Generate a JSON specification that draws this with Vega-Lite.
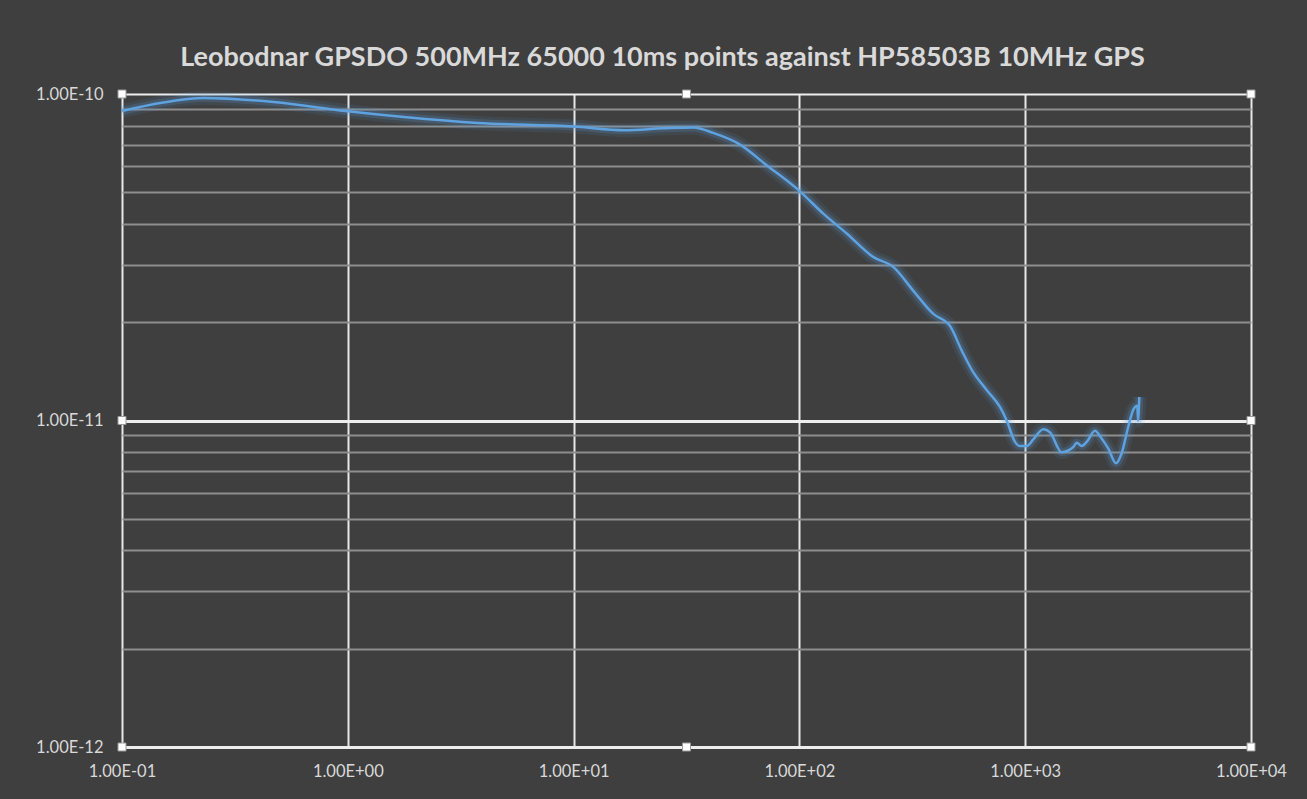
{
  "$schema": "https://vega.github.io/schema/vega-lite/v6.json",
  "autosize": {"type": "none"},
  "width": 1129,
  "height": 653,
  "padding": {"left": 122, "top": 94, "right": 56, "bottom": 52},
  "background": "#3f3f3f",
  "config": {"view": {"stroke": null}},
  "title": {
    "text": "Leobodnar GPSDO 500MHz 65000 10ms points against HP58503B 10MHz GPS",
    "font": "Lato",
    "fontSize": 27,
    "fontWeight": "bold",
    "color": "#d9d9d9",
    "anchor": "middle",
    "baseline": "alphabetic",
    "offset": 27,
    "dx": -24,
    "dy": 50
  },
  "datasets": {
    "adev": [
      {"tau": 0.1, "adev": 8.87e-11},
      {"tau": 0.15, "adev": 9.4e-11},
      {"tau": 0.23, "adev": 9.72e-11},
      {"tau": 0.47, "adev": 9.45e-11},
      {"tau": 1.0, "adev": 8.85e-11},
      {"tau": 1.77, "adev": 8.5e-11},
      {"tau": 3.75, "adev": 8.15e-11},
      {"tau": 10, "adev": 7.95e-11},
      {"tau": 16.8, "adev": 7.75e-11},
      {"tau": 25, "adev": 7.85e-11},
      {"tau": 34, "adev": 7.9e-11},
      {"tau": 41.5, "adev": 7.6e-11},
      {"tau": 54.6, "adev": 7.0e-11},
      {"tau": 71.6, "adev": 6.05e-11},
      {"tau": 100, "adev": 5.05e-11},
      {"tau": 127.6, "adev": 4.3e-11},
      {"tau": 162, "adev": 3.74e-11},
      {"tau": 212, "adev": 3.17e-11},
      {"tau": 261, "adev": 2.95e-11},
      {"tau": 319, "adev": 2.5e-11},
      {"tau": 392, "adev": 2.12e-11},
      {"tau": 464, "adev": 1.95e-11},
      {"tau": 523, "adev": 1.64e-11},
      {"tau": 580, "adev": 1.43e-11},
      {"tau": 675, "adev": 1.24e-11},
      {"tau": 773, "adev": 1.1e-11},
      {"tau": 828, "adev": 1.0e-11},
      {"tau": 901, "adev": 8.6e-12},
      {"tau": 948, "adev": 8.35e-12},
      {"tau": 1015, "adev": 8.35e-12},
      {"tau": 1086, "adev": 8.75e-12},
      {"tau": 1203, "adev": 9.4e-12},
      {"tau": 1288, "adev": 9.2e-12},
      {"tau": 1451, "adev": 8.0e-12},
      {"tau": 1553, "adev": 8.1e-12},
      {"tau": 1634, "adev": 8.3e-12},
      {"tau": 1692, "adev": 8.55e-12},
      {"tau": 1780, "adev": 8.35e-12},
      {"tau": 1873, "adev": 8.6e-12},
      {"tau": 2037, "adev": 9.3e-12},
      {"tau": 2182, "adev": 8.8e-12},
      {"tau": 2334, "adev": 8.2e-12},
      {"tau": 2524, "adev": 7.4e-12},
      {"tau": 2675, "adev": 7.94e-12},
      {"tau": 2864, "adev": 9.6e-12},
      {"tau": 3013, "adev": 1.08e-11},
      {"tau": 3136, "adev": 1.11e-11},
      {"tau": 3160, "adev": 1.0e-11},
      {"tau": 3201, "adev": 1.18e-11}
    ],
    "handles": [
      {"tau": 0.1, "adev": 1e-10},
      {"tau": 31.62, "adev": 1e-10},
      {"tau": 10000, "adev": 1e-10},
      {"tau": 0.1, "adev": 1e-11},
      {"tau": 10000, "adev": 1e-11},
      {"tau": 0.1, "adev": 1e-12},
      {"tau": 31.62, "adev": 1e-12},
      {"tau": 10000, "adev": 1e-12}
    ]
  },
  "encoding": {
    "x": {
      "field": "tau",
      "type": "quantitative",
      "scale": {"type": "log", "domain": [0.1, 10000], "nice": false},
      "axis": {
        "title": null,
        "values": [0.1, 1, 10, 100, 1000, 10000],
        "labelExpr": "datum.value < 0.5 ? '1.00E-01' : datum.value < 5 ? '1.00E+00' : datum.value < 50 ? '1.00E+01' : datum.value < 500 ? '1.00E+02' : datum.value < 5000 ? '1.00E+03' : '1.00E+04'",
        "grid": true,
        "gridColor": "#e8e8e8",
        "gridWidth": 2,
        "gridOpacity": 1,
        "domain": false,
        "ticks": false,
        "labelColor": "#d9d9d9",
        "labelFont": "Lato",
        "labelFontSize": 16.5,
        "labelPadding": 16,
        "labelFlush": false
      }
    },
    "y": {
      "field": "adev",
      "type": "quantitative",
      "scale": {"type": "log", "domain": [1e-12, 1e-10], "nice": false},
      "axis": {
        "title": null,
        "values": [1e-12, 2e-12, 3e-12, 4e-12, 5e-12, 6e-12, 7e-12, 8e-12, 9e-12, 1e-11, 2e-11, 3e-11, 4e-11, 5e-11, 6e-11, 7e-11, 8e-11, 9e-11, 1e-10],
        "labelExpr": "datum.value == 1e-10 ? '1.00E-10' : datum.value == 1e-11 ? '1.00E-11' : datum.value == 1e-12 ? '1.00E-12' : ''",
        "grid": true,
        "gridColor": {"condition": {"test": "datum.value == 1e-10 || datum.value == 1e-11 || datum.value == 1e-12", "value": "#eeeeee"}, "value": "#8e8e8e"},
        "gridWidth": {"condition": {"test": "datum.value == 1e-11 || datum.value == 1e-12", "value": 3}, "value": 2},
        "gridOpacity": 1,
        "domain": false,
        "ticks": false,
        "labelColor": "#d9d9d9",
        "labelFont": "Lato",
        "labelFontSize": 16.5,
        "labelPadding": 19,
        "labelFlush": false
      }
    }
  },
  "layer": [
    {
      "data": {"name": "adev"},
      "mark": {"type": "line", "interpolate": "monotone", "color": "#5b9bd5", "strokeWidth": 14, "opacity": 0.1, "clip": false}
    },
    {
      "data": {"name": "adev"},
      "mark": {"type": "line", "interpolate": "monotone", "color": "#5b9bd5", "strokeWidth": 8, "opacity": 0.2, "clip": false}
    },
    {
      "data": {"name": "adev"},
      "mark": {"type": "line", "interpolate": "monotone", "color": "#5ea2e0", "strokeWidth": 2.5, "clip": false}
    },
    {
      "data": {"name": "handles"},
      "mark": {"type": "point", "shape": "square", "size": 64, "filled": true, "color": "#ffffff", "stroke": "#9a9a9a", "strokeWidth": 1, "opacity": 1}
    }
  ]
}
